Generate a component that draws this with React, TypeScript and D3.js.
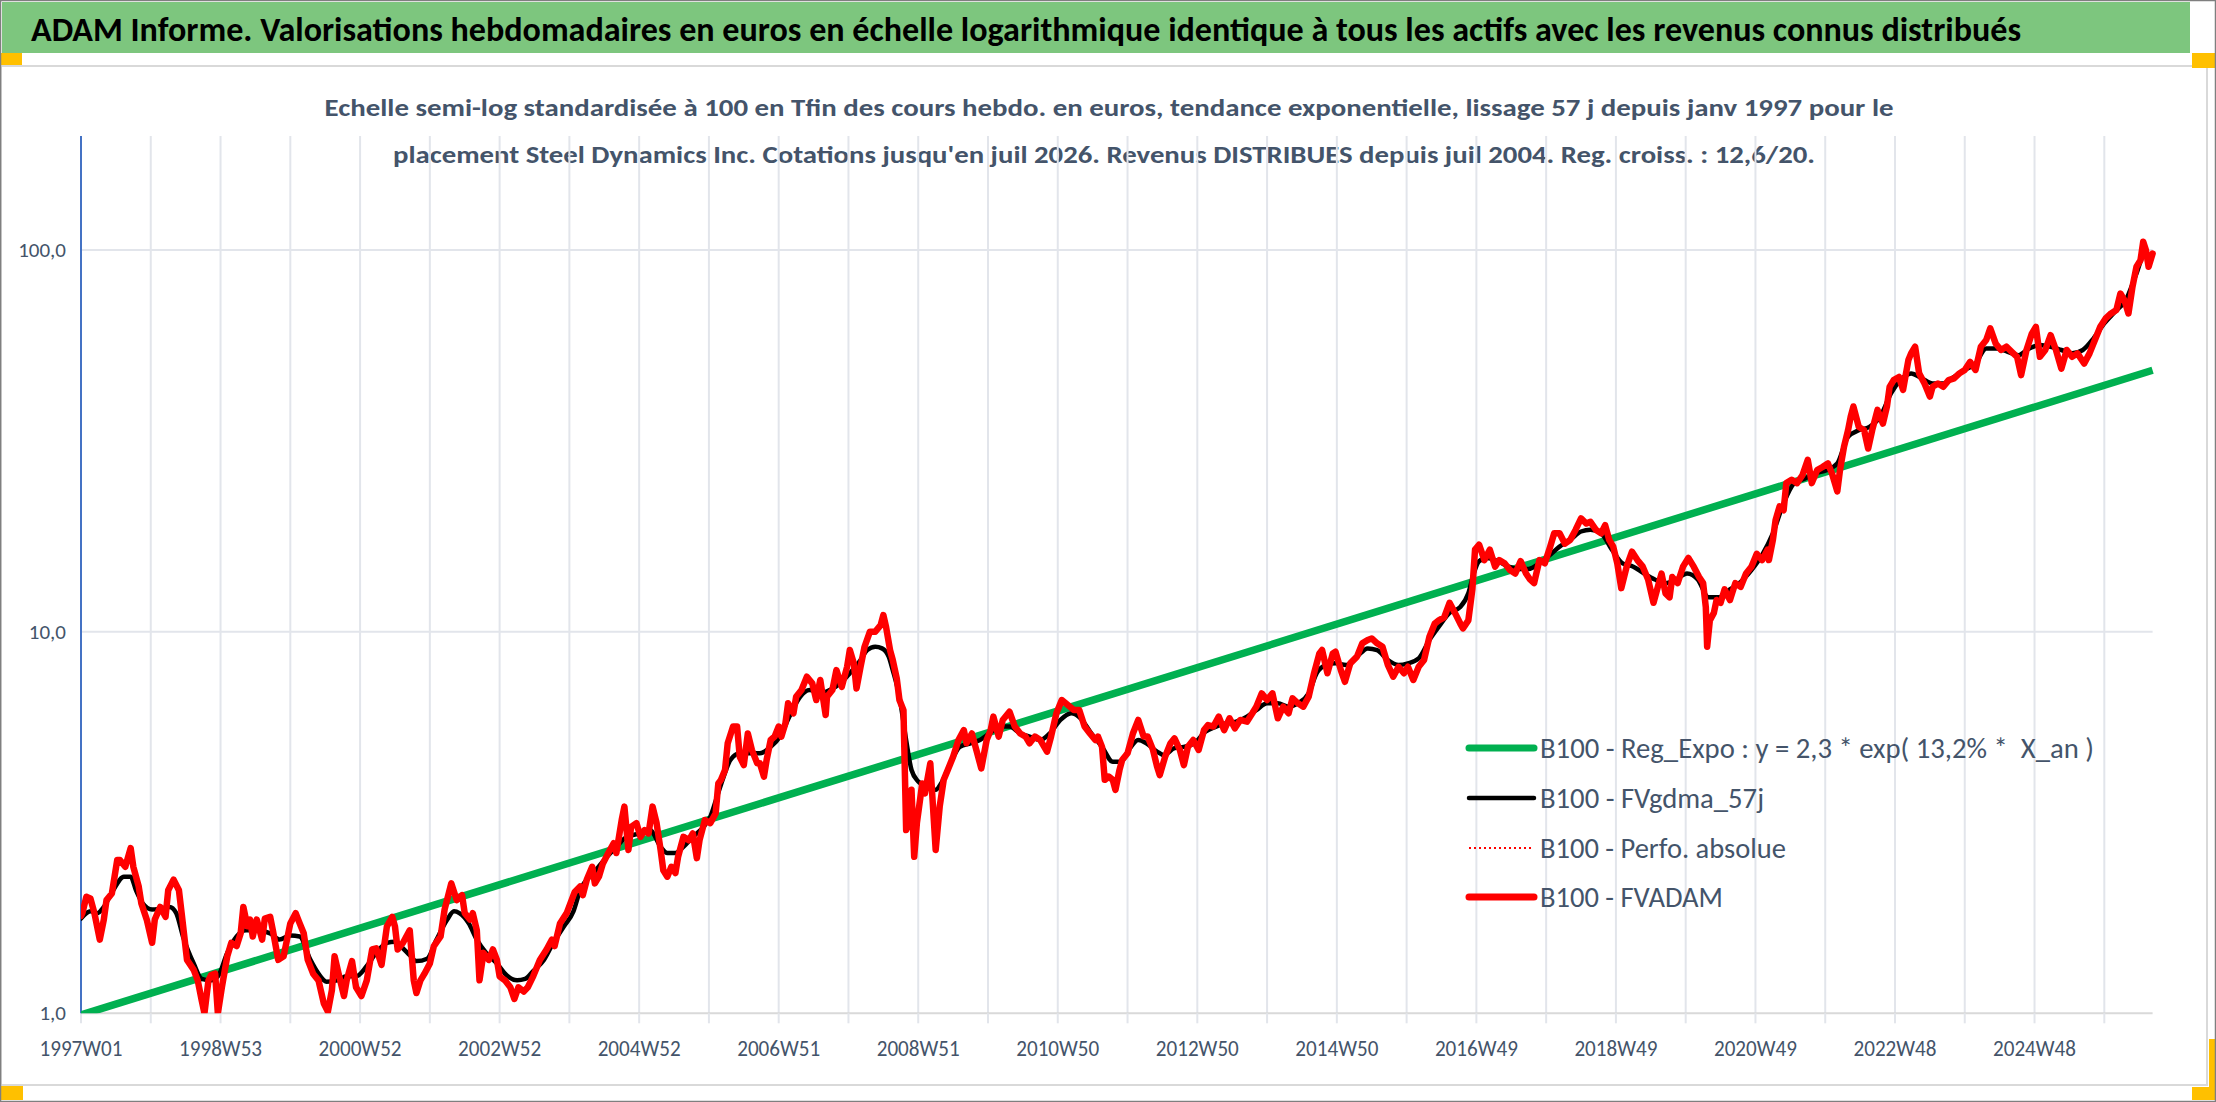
import React from "react";
import * as d3 from "d3";

// ---------- DATA ----------
// week index since 1997W01, value (base 100 at end)
const fvadam: [number, number][] = [
  [0,1.80],[1,1.83],[4,2.02],[7,2.00],[10,1.83],[14,1.56],[17,1.76],[19,1.98],[23,2.06],[27,2.52],[29,2.52],[33,2.42],[37,2.71],[39,2.42],[43,2.15],[45,1.94],[49,1.76],[53,1.53],[55,1.76],[59,1.90],[63,1.79],[65,2.10],[69,2.24],[73,2.10],[75,1.83],[79,1.38],[84,1.30],[87,1.22],[90,1.08],[92,1.00],[95,1.22],[97,1.26],[100,1.27],[102,1.00],[105,1.17],[109,1.41],[112,1.53],[116,1.50],[119,1.62],[121,1.90],[124,1.69],[126,1.76],[128,1.59],[131,1.76],[135,1.56],[137,1.77],[141,1.79],[143,1.65],[147,1.38],[151,1.41],[156,1.72],[160,1.83],[163,1.72],[166,1.62],[169,1.38],[173,1.27],[177,1.22],[181,1.06],[184,1.01],[187,1.15],[189,1.41],[192,1.27],[196,1.11],[198,1.22],[202,1.37],[205,1.17],[209,1.11],[213,1.22],[217,1.47],[220,1.48],[224,1.34],[228,1.69],[232,1.79],[234,1.69],[236,1.47],[240,1.53],[245,1.65],[248,1.22],[250,1.13],[253,1.22],[256,1.27],[260,1.35],[263,1.50],[268,1.59],[271,1.87],[276,2.19],[280,1.98],[284,2.04],[286,1.83],[290,1.76],[292,1.83],[295,1.65],[297,1.22],[300,1.44],[304,1.38],[307,1.47],[310,1.38],[312,1.25],[316,1.22],[320,1.17],[323,1.09],[326,1.17],[330,1.14],[333,1.17],[337,1.25],[342,1.38],[347,1.47],[351,1.56],[353,1.50],[357,1.72],[362,1.83],
  [368,2.08],[372,2.15],[374,2.04],[377,2.24],[381,2.42],[383,2.19],[386,2.28],[389,2.47],[393,2.63],[397,2.79],[399,2.63],[403,3.21],[405,3.48],[408,2.68],[410,3.08],[414,3.15],[417,2.90],[420,3.02],[423,2.96],[426,3.48],[429,3.15],[432,2.68],[434,2.37],[437,2.28],[440,2.42],[443,2.33],[445,2.57],[449,2.90],[453,2.84],[456,2.96],[459,2.55],[461,2.84],[465,3.21],[469,3.15],[473,3.34],[475,4.00],[477,4.09],[480,4.34],[482,5.10],[486,5.64],[489,5.64],[491,4.70],[494,4.47],[497,5.41],[500,4.90],[504,4.52],[506,4.52],[509,4.17],[511,4.61],[514,5.20],[517,5.31],[520,5.64],[522,5.31],[525,5.75],[527,6.49],[531,6.11],[533,6.75],[537,7.03],[541,7.62],[545,7.32],[548,6.62],[551,7.47],[555,6.05],[556,6.75],[560,7.03],[563,7.93],[567,7.17],[571,8.09],[573,8.95],[576,8.26],[578,7.10],[581,8.09],[584,9.13],[588,10.0],[592,10.0],[596,10.4],[598,11.05],[600,10.3],[603,8.95],[605,8.43],[608,7.54],[610,6.62],[613,6.23],[615,3.02],[617,3.15],[619,3.85],[621,2.57],[623,3.15],[627,4.00],[629,3.77],[633,4.52],[635,3.48],[637,2.68],[640,3.48],[643,4.09],[646,4.34],[650,4.70],[654,5.20],[658,5.52],[660,5.10],[664,5.41],[668,4.80],[671,4.38],[675,5.20],[678,5.52],[680,5.99],[684,5.31],[687,5.87],[692,6.17],[696,5.64],[700,5.41],[704,5.31],[707,5.10],[711,5.31],[715,5.20],[720,4.85],[723,5.31],[727,6.11],[731,6.62],
  [740,6.23],[744,6.23],[748,5.64],[752,5.41],[756,5.20],[758,5.31],[761,4.99],[763,4.09],[766,4.17],[769,4.09],[771,3.85],[774,4.34],[776,4.61],[780,4.80],[784,5.41],[788,5.87],[792,5.31],[795,5.31],[799,4.90],[802,4.43],[804,4.21],[808,4.70],[812,5.10],[815,5.25],[819,4.90],[822,4.47],[825,4.99],[829,5.20],[833,4.90],[837,5.52],[840,5.69],[844,5.64],[848,5.99],[852,5.52],[856,5.93],[860,5.58],[864,5.87],[869,5.81],[873,6.11],[876,6.36],[880,6.89],[884,6.62],[888,6.89],[892,5.93],[896,6.36],[900,6.11],[903,6.69],[907,6.49],[911,6.36],[915,6.75],[919,7.78],[923,8.77],[925,8.95],[929,7.78],[933,8.77],[935,8.86],[939,7.93],[942,7.39],[946,8.26],[951,8.60],[955,9.32],[959,9.51],[962,9.60],[966,9.32],[970,9.13],[974,8.18],[978,7.62],[982,8.09],[986,7.78],[989,8.09],[993,7.47],[997,8.09],[1001,8.43],[1005,9.70],[1009,10.5],[1012,10.7],[1016,10.9],[1020,11.9],[1024,11.2],[1028,10.5],[1030,10.2],[1034,10.7],[1037,12.9],[1039,16.4],[1042,16.9],[1046,15.4],[1050,16.4],[1054,14.8],[1057,15.4],[1061,15.1],[1065,14.5],[1069,14.2],[1073,15.3],[1077,14.2],[1080,13.7],[1083,13.4],[1087,15.4],[1091,15.1],[1095,16.7],[1098,18.1],[1102,18.1],[1106,17.0],[1110,17.4],[1114,18.5],[1118,19.8],[1122,19.2],[1125,19.4],[1129,18.5],[1133,18.1],
  [1136,19.0],[1139,17.4],[1142,16.7],[1145,15.1],[1148,13.0],[1152,14.8],[1156,16.2],[1160,15.4],[1164,14.8],[1168,13.7],[1172,11.9],[1176,13.4],[1178,14.2],[1181,12.6],[1184,12.3],[1186,13.9],[1190,13.4],[1194,14.8],[1198,15.6],[1202,14.8],[1206,13.9],[1209,13.4],[1211,11.6],[1212,9.13],[1214,10.7],[1217,11.2],[1219,12.1],[1222,11.9],[1225,12.9],[1229,12.1],[1233,13.4],[1237,13.1],[1241,14.2],[1245,14.8],[1249,16.0],[1253,15.4],[1257,16.4],[1258,15.4],[1261,17.4],[1263,19.6],[1266,21.3],[1269,20.8],[1271,24.5],[1275,25.0],[1279,24.5],[1283,25.7],[1287,28.2],[1290,24.5],[1294,26.5],[1298,27.0],[1302,27.6],[1305,26.0],[1309,23.3],[1311,26.5],[1314,30.5],[1317,33.7],[1319,36.6],[1321,38.9],[1325,34.4],[1329,33.7],[1332,30.2],[1335,33.7],[1339,38.1],[1343,35.1],[1346,38.9],[1348,43.8],[1351,45.6],[1355,46.5],[1358,43.0],[1362,51.5],[1364,53.6],[1367,55.8],[1370,47.5],[1374,44.7],[1378,41.3],[1380,43.8],[1384,44.7],[1388,43.8],[1392,45.6],[1396,46.1],[1400,47.5],[1404,48.5],[1408,50.9],[1412,48.5],[1416,55.8],[1420,58.1],[1423,62.3],[1427,56.9],[1431,54.7],[1435,55.8],[1439,54.1],[1443,52.5],[1446,47.0],[1450,54.7],[1454,60.4],[1457,62.9],[1460,52.5],[1464,54.7],[1468,59.8],[1472,54.7],[1476,48.9],[1480,54.7],[1484,52.5],[1488,53.6],[1493,50.4],[1497,53.6],[1501,58.1],[1505,62.9],[1509,66.2],[1513,68.2],[1517,69.6],[1520,76.9],[1523,73.9],[1526,68.2],[1529,80.1],[1532,90.4],[1535,94.1],[1537,105.1],[1539,100.0],[1541,90.4],[1544,97.9],
];

const fvgdma57: [number, number][] = [
  [0,1.77],[7,1.85],[12,1.83],[17,1.90],[24,2.10],[32,2.28],[37,2.28],[41,2.10],[46,1.94],[53,1.87],[59,1.88],[66,1.90],[71,1.83],[76,1.59],[84,1.35],[90,1.23],[96,1.22],[102,1.25],[109,1.44],[116,1.59],[123,1.65],[131,1.65],[141,1.62],[148,1.56],[156,1.60],[163,1.59],[171,1.38],[177,1.27],[183,1.21],[191,1.22],[198,1.25],[205,1.25],[213,1.33],[220,1.44],[228,1.53],[234,1.54],[240,1.48],[245,1.42],[250,1.37],[258,1.39],[265,1.56],[273,1.76],[278,1.85],[282,1.83],[289,1.72],[295,1.56],[302,1.44],[310,1.35],[317,1.26],[325,1.22],[331,1.23],[337,1.29],[345,1.38],[352,1.53],[360,1.69],[367,1.85],
  [372,2.10],[382,2.33],[392,2.57],[399,2.73],[407,2.90],[417,2.96],[424,3.02],[432,2.73],[437,2.63],[443,2.63],[449,2.73],[456,2.90],[464,3.08],[469,3.27],[474,3.69],[479,4.17],[484,4.61],[491,4.80],[499,4.80],[506,4.80],[514,4.99],[521,5.31],[528,5.99],[536,6.75],[543,7.03],[551,6.89],[558,7.03],[566,7.32],[573,7.78],[581,8.43],[586,8.95],[592,9.13],[597,9.04],[602,8.60],[605,7.93],[610,6.75],[615,5.20],[619,4.34],[624,4.05],[630,3.93],[637,3.85],[641,4.00],[648,4.52],[655,4.99],[663,5.10],[670,5.20],[677,5.41],[685,5.64],[692,5.64],[700,5.41],[707,5.31],[715,5.20],[722,5.41],[730,5.87],
  [738,6.11],[745,5.93],[753,5.41],[761,4.99],[769,4.56],[775,4.56],[781,4.90],[788,5.20],[794,5.10],[802,4.85],[807,4.75],[815,4.95],[822,4.99],[830,5.10],[838,5.47],[846,5.64],[853,5.75],[861,5.81],[869,5.99],[876,6.23],[884,6.49],[892,6.49],[900,6.36],[907,6.49],[915,6.89],[921,7.78],[928,8.18],[935,8.26],[943,8.18],[951,8.60],[959,9.04],[966,8.95],[974,8.43],[982,8.18],[989,8.26],[997,8.51],[1005,9.51],[1012,10.3],[1020,11.2],[1028,11.6],[1034,12.6],[1038,14.2],[1042,15.3],[1048,15.6],[1056,15.3],[1064,14.8],[1072,14.6],[1079,14.6],[1087,15.1],[1095,15.9],[1102,16.7],[1110,17.4],[1118,18.3],[1125,18.5],[1133,18.1],
  [1141,16.4],[1149,15.1],[1157,14.8],[1165,14.2],[1173,13.7],[1181,13.4],[1189,13.7],[1197,14.2],[1205,13.7],[1213,12.3],[1221,12.3],[1229,12.9],[1237,13.5],[1245,14.5],[1253,15.9],[1261,18.1],[1269,21.7],[1277,24.5],[1285,25.2],[1293,26.0],[1301,26.5],[1309,27.6],[1317,32.4],[1325,33.7],[1333,34.4],[1341,36.6],[1349,42.1],[1356,45.6],[1364,47.5],[1372,46.1],[1380,44.7],[1388,44.7],[1396,46.5],[1404,48.5],[1412,50.4],[1420,55.2],[1428,55.2],[1436,54.1],[1444,53.0],[1452,55.2],[1460,56.4],[1468,55.8],[1476,54.7],[1484,53.6],[1492,54.7],[1500,58.7],[1508,64.2],[1516,68.9],[1524,73.9],[1532,86.8],[1537,96.0],[1544,97.0],
];

// regression line read at its two ends
const regExpo: [number, number][] = [[0, 0.99], [1544, 48.4]];

const lastWeek = 1544;
const gridStepWeeks = 52;
const xTickLabels = ["1997W01","1998W53","2000W52","2002W52","2004W52","2006W51","2008W51","2010W50","2012W50","2014W50","2016W49","2018W49","2020W49","2022W48","2024W48"];
const yTickValues = [1, 10, 100];
const yTickLabels = ["1,0", "10,0", "100,0"];

const titleText = "ADAM Informe. Valorisations hebdomadaires en euros en échelle logarithmique identique à tous les actifs avec les revenus connus distribués";
const subtitle1 = "Echelle semi-log standardisée à 100 en Tfin des cours hebdo. en euros, tendance exponentielle, lissage 57 j depuis janv 1997 pour le";
const subtitle2 = "placement Steel Dynamics Inc. Cotations jusqu'en juil 2026. Revenus DISTRIBUES depuis juil 2004. Reg. croiss. : 12,6/20.";
const legendLabels = [
  "B100 - Reg_Expo : y = 2,3 * exp( 13,2% *  X_an )",
  "B100 - FVgdma_57j",
  "B100 - Perfo. absolue",
  "B100 - FVADAM",
];

// ---------- LAYOUT ----------
const W = 2216, H = 1102;
const L = 81, R = 2152.6, T = 136, B = 1013.3, Y100 = 250;
const FONT = "Carlito, 'Liberation Sans Narrow', 'Open Sans', 'DejaVu Sans', sans-serif";
const TXT = "#44546A";
const GRID = "#E2E5EB";

export default function App() {
  const x = d3.scaleLinear().domain([0, lastWeek]).range([L, R]);
  const y = d3.scaleLog().domain([1, 100]).range([B, Y100]);
  const line = d3.line<[number, number]>().x(d => x(d[0])).y(d => y(d[1]));
  const smooth = d3.line<[number, number]>().x(d => x(d[0])).y(d => y(d[1])).curve(d3.curveMonotoneX);

  const gridWeeks = d3.range(0, lastWeek + 1, gridStepWeeks);
  const labelWeeks = xTickLabels.map((_, i) => i * 2 * gridStepWeeks);

  const legendRows = [748, 798, 848, 897];
  const legendWidths = [554, 224, 246, 183];
  const legendStyles = [
    { stroke: "#00B050", w: 7, dash: undefined as string | undefined },
    { stroke: "#000000", w: 4.5, dash: undefined },
    { stroke: "#FF0000", w: 2, dash: "2,3" },
    { stroke: "#FF0000", w: 7, dash: undefined },
  ];

  return (
    <svg width={W} height={H} viewBox={`0 0 ${W} ${H}`}
      style={{ position: "absolute", left: 0, top: 0, display: "block", background: "#fff" }}
      fontFamily={FONT}>
      <rect x={0} y={0} width={W} height={H} fill="#fff" />
      {/* title bar */}
      <rect x={2} y={2} width={2188} height={51} fill="#7DC67E" />
      <text x={31} y={41} fontSize={34} fontWeight="bold" fill="#000" textLength={1990} lengthAdjust="spacingAndGlyphs">{titleText}</text>
      {/* chart area border */}
      <rect x={1} y={66} width={2206} height={1019} fill="#fff" stroke="#D9D9D9" strokeWidth={2} />
      {/* subtitle */}
      <text x={1109} y={116} fontSize={24} fontWeight="bold" fill={TXT} textAnchor="middle" textLength={1569} lengthAdjust="spacingAndGlyphs">{subtitle1}</text>
      <text x={1104} y={163} fontSize={24} fontWeight="bold" fill={TXT} textAnchor="middle" textLength={1422} lengthAdjust="spacingAndGlyphs">{subtitle2}</text>

      {/* grid */}
      {gridWeeks.filter(w => w > 0).map(w => (
        <line key={"gv" + w} x1={x(w)} x2={x(w)} y1={T} y2={B} stroke={GRID} strokeWidth={2} />
      ))}
      {yTickValues.filter(v => v > 1).map(v => (
        <line key={"gh" + v} x1={L} x2={R} y1={y(v)} y2={y(v)} stroke={GRID} strokeWidth={2} />
      ))}
      {/* x axis */}
      <line x1={L} x2={R} y1={B} y2={B} stroke="#D9D9D9" strokeWidth={2} />
      {gridWeeks.map(w => (
        <line key={"tk" + w} x1={x(w)} x2={x(w)} y1={B} y2={B + 10} stroke={GRID} strokeWidth={2} />
      ))}
      {xTickLabels.map((lab, i) => (
        <text key={lab} x={x(labelWeeks[i])} y={1056} fontSize={23} fill={TXT} textAnchor="middle" textLength={83} lengthAdjust="spacingAndGlyphs">{lab}</text>
      ))}
      {/* y axis */}
      <line x1={L} x2={L} y1={T} y2={B} stroke="#4472C4" strokeWidth={2} />
      {yTickValues.map((v, i) => (
        <text key={"yl" + v} x={66} y={y(v)} fontSize={21} fill={TXT} textAnchor="end" dominantBaseline="central">{yTickLabels[i]}</text>
      ))}

      {/* series */}
      <defs>
        <clipPath id="plotClip"><rect x={L} y={T} width={R - L + 4} height={B - T} /></clipPath>
      </defs>
      <g clipPath="url(#plotClip)" fill="none" strokeLinejoin="round" strokeLinecap="round">
        <path d={line(regExpo) || ""} stroke="#00B050" strokeWidth={7.5} strokeLinecap="butt" />
        <path d={smooth(fvgdma57) || ""} stroke="#000" strokeWidth={4.5} />
        <path d={line(fvadam) || ""} stroke="#FF0000" strokeWidth={6.5} />
      </g>

      {/* legend */}
      {legendLabels.map((lab, i) => (
        <g key={lab}>
          <line x1={1469} x2={1534} y1={legendRows[i]} y2={legendRows[i]} stroke={legendStyles[i].stroke}
            strokeWidth={legendStyles[i].w} strokeDasharray={legendStyles[i].dash}
            strokeLinecap={legendStyles[i].dash ? "butt" : "round"} />
          <text x={1540} y={legendRows[i] + 10} fontSize={28} fill={TXT} textLength={legendWidths[i]}
            lengthAdjust="spacingAndGlyphs" style={{ whiteSpace: "pre" }}>{lab}</text>
        </g>
      ))}

      {/* selection handles */}
      <rect x={0} y={53} width={22} height={12} fill="#FFC000" />
      <rect x={2192} y={53} width={24} height={15} fill="#FFC000" />
      <rect x={0} y={1086} width={23} height={14} fill="#FFC000" />
      <rect x={2209} y={1039} width={7} height={61} fill="#FFC000" />
      <rect x={2192} y={1087} width={24} height={13} fill="#FFC000" />
      {/* outer border */}
      <rect x={0.5} y={0.5} width={W - 1} height={H - 1} fill="none" stroke="#7F7F7F" strokeWidth={1.5} />
    </svg>
  );
}
